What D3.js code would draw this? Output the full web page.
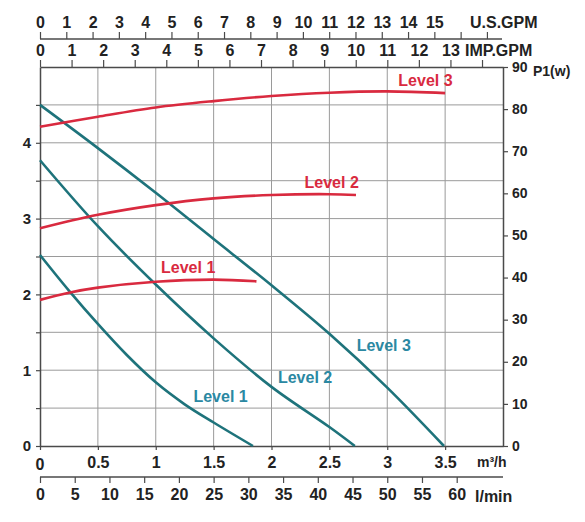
<!DOCTYPE html>
<html>
<head>
<meta charset="utf-8">
<script src="https://cdn.jsdelivr.net/npm/d3@7"></script>
<style>
  body { margin: 0; background: #fff; }
  svg { font-family: "Liberation Sans", Arial, sans-serif; font-weight: bold; }
</style>
</head>
<body>
<svg id="chart"></svg>
<script>
// flow in m3/h, head in m, power in W
const flowTicks = [0, 0.5, 1, 1.5, 2, 2.5, 3, 3.5];
const headTicks = [0, 1, 2, 3, 4];
const powerTicks = [0, 10, 20, 30, 40, 50, 60, 70, 80, 90];
const lminTicks = [0, 5, 10, 15, 20, 25, 30, 35, 40, 45, 50, 55, 60];
const usGpmTicks = d3.range(0, 18);
const usGpmLabels = d3.range(0, 16);
const impGpmTicks = d3.range(0, 15);
const impGpmLabels = d3.range(0, 14);

const levels = ['Level 1', 'Level 2', 'Level 3'];

const headLevel1 = [[0, 2.52], [0.25, 2.05], [0.5, 1.61], [0.75, 1.2], [1, 0.84], [1.25, 0.55], [1.5, 0.31], [1.84, 0]];
const headLevel2 = [[0, 3.77], [0.5, 2.9], [1, 2.13], [1.5, 1.42], [2, 0.78], [2.5, 0.25], [2.72, 0]];
const headLevel3 = [[0, 4.5], [0.5, 3.93], [1, 3.34], [1.5, 2.73], [2, 2.12], [2.5, 1.48], [3, 0.77], [3.49, 0]];

const powerLevel1 = [[0, 34.7], [0.25, 36.4], [0.5, 37.6], [1, 39.0], [1.5, 39.5], [1.87, 39.1]];
const powerLevel2 = [[0, 51.7], [0.5, 54.9], [1, 57.2], [1.5, 58.8], [2, 59.6], [2.5, 59.8], [2.73, 59.6]];
const powerLevel3 = [[0, 75.8], [0.5, 78.2], [1, 80.4], [1.5, 81.9], [2, 83.1], [2.5, 83.9], [3, 84.2], [3.5, 83.8]];

const W = 585, H = 522;
const pLeft = 40, pRight = 503, pTop = 67, pBottom = 446;
const teal = '#1e737b', tealText = '#2b88a2', red = '#d92a3f';
const axisColor = '#4a4a4a', gridColor = '#9a9a9a';

const svg = d3.select('#chart').attr('width', W).attr('height', H);

const x = d3.scaleLinear().domain([0, 4]).range([pLeft, pRight]);
const yHead = d3.scaleLinear().domain([0, 5]).range([pBottom, pTop]);
const yPower = d3.scaleLinear().domain([0, 90]).range([pBottom, pTop]);
// other flow units mapped onto the same width
const xLmin = d3.scaleLinear().domain([0, 4 * 1000 / 60]).range([pLeft, pRight]);
const xUs = d3.scaleLinear().domain([0, 4 / 0.227125]).range([pLeft, pRight]);
const xImp = d3.scaleLinear().domain([0, 4 / 0.272765]).range([pLeft, pRight]);

// grid
const grid = svg.append('g').attr('stroke', gridColor).attr('stroke-width', 1);
grid.selectAll('.vg').data(d3.range(0.5, 4, 0.5)).enter().append('line')
  .attr('x1', d => x(d)).attr('x2', d => x(d))
  .attr('y1', pTop).attr('y2', pBottom);
grid.selectAll('.hg').data(d3.range(0.5, 5, 0.5)).enter().append('line')
  .attr('x1', pLeft).attr('x2', pRight)
  .attr('y1', d => yHead(d)).attr('y2', d => yHead(d));

function styleAxis(g, size) {
  g.select('.domain').attr('stroke', axisColor).attr('stroke-width', 1.5);
  g.selectAll('.tick line').attr('stroke', axisColor).attr('stroke-width', 1.2);
  g.selectAll('.tick text').attr('fill', '#222').style('font-size', size + 'px')
    .style('font-family', '"Liberation Sans", Arial, sans-serif').style('font-weight', 'bold');
}

// bottom m3/h axis
const gx = svg.append('g').attr('transform', `translate(0,${pBottom})`)
  .call(d3.axisBottom(x).tickValues(flowTicks).tickSize(4).tickSizeOuter(0).tickPadding(7)
    .tickFormat(d => d === 0 ? '' : d));
styleAxis(gx, 16);
svg.append('text').attr('x', x(0)).attr('y', 470).attr('text-anchor', 'middle')
  .style('font-size', '16px').attr('fill', '#222').text('0');
svg.append('text').attr('x', 477).attr('y', 467).style('font-size', '14px').attr('fill', '#222').text('m³/h');

// l/min axis
const gl = svg.append('g').attr('transform', 'translate(0,477)')
  .call(d3.axisBottom(xLmin).tickValues(lminTicks).tickSize(6).tickSizeOuter(0).tickPadding(6));
styleAxis(gl, 16);
gl.select('.domain').attr('d', `M${pLeft},0H${pRight}`);
svg.append('text').attr('x', 475).attr('y', 502).style('font-size', '16px').attr('fill', '#222').text('l/min');

// left head axis
const gy = svg.append('g').attr('transform', `translate(${pLeft},0)`)
  .call(d3.axisLeft(yHead).tickValues(d3.range(0, 5, 0.5)).tickSize(4).tickSizeOuter(0).tickPadding(5)
    .tickFormat(d => headTicks.includes(d) ? d : ''));
styleAxis(gy, 15);

// right power axis
const gp = svg.append('g').attr('transform', `translate(${pRight},0)`)
  .call(d3.axisRight(yPower).tickValues(powerTicks).tickSize(5).tickSizeOuter(0).tickPadding(4));
styleAxis(gp, 14);
gp.selectAll('.tick text').attr('dy', '0.3em');
svg.append('text').attr('x', 533).attr('y', 76).style('font-size', '14px').attr('fill', '#222').text('P1(w)');

// top IMP.GPM axis
const gi = svg.append('g').attr('transform', `translate(0,${pTop})`)
  .call(d3.axisTop(xImp).tickValues(impGpmTicks).tickSize(7).tickSizeOuter(0).tickPadding(4)
    .tickFormat(d => impGpmLabels.includes(d) ? d : ''));
styleAxis(gi, 16);
svg.append('text').attr('x', 465).attr('y', 56).style('font-size', '16px').attr('fill', '#222').text('IMP.GPM');

// top U.S.GPM axis
const gu = svg.append('g').attr('transform', 'translate(0,39)')
  .call(d3.axisTop(xUs).tickValues(usGpmTicks).tickSize(7).tickSizeOuter(0).tickPadding(4)
    .tickFormat(d => usGpmLabels.includes(d) ? d : ''));
styleAxis(gu, 16);
gu.select('.domain').attr('d', `M${pLeft},0H${pRight - 1}`);
svg.append('text').attr('x', 470).attr('y', 28).style('font-size', '16px').attr('fill', '#222').text('U.S.GPM');

// curves
const headLine = d3.line().x(d => x(d[0])).y(d => yHead(d[1])).curve(d3.curveCatmullRom.alpha(0.5));
const powerLine = d3.line().x(d => x(d[0])).y(d => yPower(d[1])).curve(d3.curveCatmullRom.alpha(0.5));

svg.append('g').selectAll('path').data([headLevel1, headLevel2, headLevel3]).enter().append('path')
  .attr('d', headLine).attr('fill', 'none').attr('stroke', teal).attr('stroke-width', 2.6);
svg.append('g').selectAll('path').data([powerLevel1, powerLevel2, powerLevel3]).enter().append('path')
  .attr('d', powerLine).attr('fill', 'none').attr('stroke', red).attr('stroke-width', 2.6);

// curve labels
const headLabelAt = [[1.56, 0.65], [2.29, 0.9], [2.97, 1.33]];
const powerLabelAt = [[1.28, 42.5], [2.52, 62.7], [3.33, 86.7]];
svg.append('g').selectAll('text').data(levels).enter().append('text')
  .attr('x', (d, i) => x(headLabelAt[i][0])).attr('y', (d, i) => yHead(headLabelAt[i][1]))
  .attr('dy', '0.35em').attr('text-anchor', 'middle').style('font-size', '16px')
  .attr('fill', tealText).text(d => d);
svg.append('g').selectAll('text').data(levels).enter().append('text')
  .attr('x', (d, i) => x(powerLabelAt[i][0])).attr('y', (d, i) => yPower(powerLabelAt[i][1]))
  .attr('dy', '0.35em').attr('text-anchor', 'middle').style('font-size', '16px')
  .attr('fill', red).text(d => d);
</script>
</body>
</html>
